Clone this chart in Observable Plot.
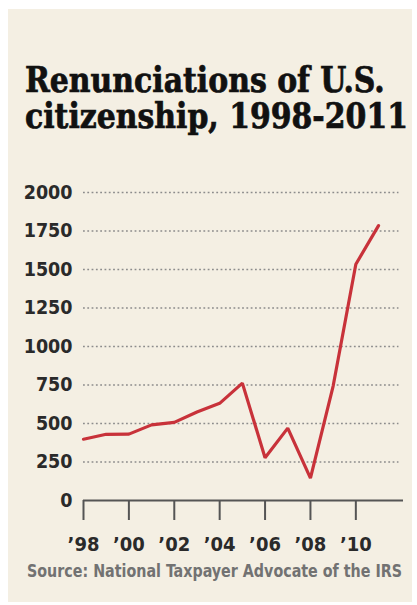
<!DOCTYPE html>
<html>
<head>
<meta charset="utf-8">
<script src="https://cdn.jsdelivr.net/npm/d3@7"></script>
<script src="https://cdn.jsdelivr.net/npm/@observablehq/plot@0.6"></script>
<style>
  html, body { margin: 0; padding: 0; background: #ffffff; width: 417px; height: 605px; overflow: hidden; }
  #card { position: absolute; left: 8px; top: 9px; width: 404px; height: 593px; background: #f4efe3; }
  .fit { position: absolute; white-space: nowrap; display: inline-block; transform-origin: 0 0; }
  .title { left: 25px; top: 61px; font-family: "DejaVu Serif Condensed", "DejaVu Serif", serif; font-weight: bold; font-size: 36px; line-height: 36px; color: #111; -webkit-text-stroke: 0.7px #111; }
  #source { left: 27px; top: 561px; font-family: "DejaVu Sans Condensed", sans-serif; font-weight: bold; font-size: 17px; line-height: 20px; color: #727272; }
  #chart { position: absolute; left: 0; top: 170px; }
</style>
</head>
<body>
<div id="card"></div>
<div class="fit title" id="title" data-w="383">Renunciations of U.S.<br>citizenship, 1998-2011</div>
<div id="chart"></div>
<div class="fit" id="source" data-w="375">Source: National Taxpayer Advocate of the IRS</div>
<script>
const years = [1998, 1999, 2000, 2001, 2002, 2003, 2004, 2005, 2006, 2007, 2008, 2009, 2010, 2011];
const renunciations = [398, 430, 431, 491, 507, 575, 631, 762, 278, 470, 145, 743, 1534, 1785];
const yTicks = [0, 250, 500, 750, 1000, 1250, 1500, 1750, 2000];
const xTicks = [1998, 2000, 2002, 2004, 2006, 2008, 2010];
const xTickLabels = ["\u201998", "\u201900", "\u201902", "\u201904", "\u201906", "\u201908", "\u201910"];

const data = years.map((y, i) => ({year: y, value: renunciations[i]}));
const gridTicks = yTicks.filter(d => d > 0);
const labelFont = "'DejaVu Sans Condensed', sans-serif";

const chart = Plot.plot({
  width: 417,
  height: 400,
  marginTop: 22,
  marginBottom: 70,
  marginLeft: 83,
  marginRight: 14,
  style: {background: "transparent", fontFamily: labelFont, overflow: "visible"},
  x: {domain: [1998, 2012.1], axis: null},
  y: {domain: [0, 2000], axis: null},
  marks: [
    Plot.ruleY(gridTicks, {x1: 1998, x2: 2011.9, stroke: "#8c8c8c", strokeWidth: 1.6, strokeDasharray: "1.8,2.5"}),
    Plot.axisY({ticks: yTicks, label: null, tickSize: 0, tickPadding: 11, tickFormat: d => String(d), fontSize: 19.5, fontWeight: "bold", fill: "#2a2a2a"}),
    Plot.axisX({ticks: xTicks, label: null, tickSize: 20, tickPadding: 16, tickFormat: d => xTickLabels[xTicks.indexOf(d)], stroke: "#555", strokeWidth: 2, fontSize: 20, fontWeight: "bold", fill: "#2a2a2a"}),
    Plot.ruleY([0], {x1: 1998, x2: 2012.1, stroke: "#555", strokeWidth: 2}),
    Plot.line(data, {x: "year", y: "value", stroke: "#c8323a", strokeWidth: 3.2, strokeLinejoin: "miter"})
  ]
});
document.getElementById("chart").appendChild(chart);

function fitAll() {
  document.querySelectorAll(".fit").forEach(el => {
    el.style.transform = "none";
    const w = el.getBoundingClientRect().width;
    const target = +el.dataset.w;
    el.style.transform = `scaleX(${target / w})`;
  });
}
fitAll();
</script>
</body>
</html>
